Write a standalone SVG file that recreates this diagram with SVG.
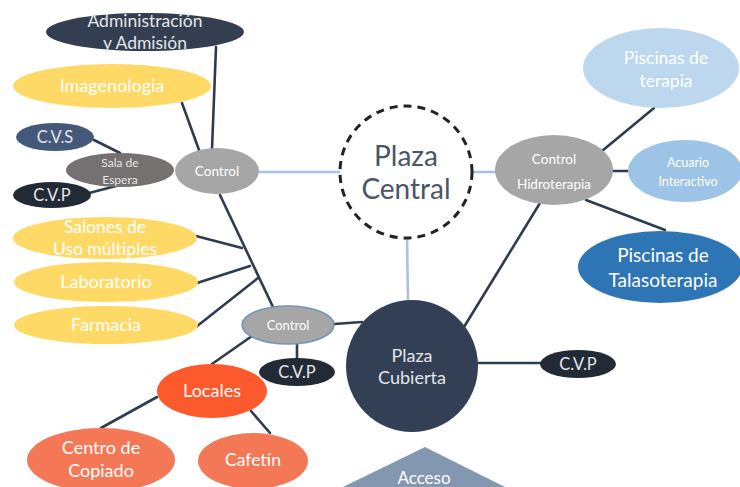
<svg xmlns="http://www.w3.org/2000/svg" width="740" height="487" viewBox="0 0 740 487">
<defs>
<style>
text{font-family:Lato,"Open Sans","Liberation Sans",sans-serif;text-anchor:middle}
.w{fill:#ffffff}
.lg{fill:#e4e6ea}
.dk{stroke:#2f3b4e;stroke-width:2.6;fill:none;stroke-linecap:round}
.lb{stroke:#a9c3dc;stroke-width:2.6;fill:none}
.yel{fill:#ffd966}
.gry{fill:#a6a6a6}
.navy{fill:#333f50}
.cvp{fill:#222a35}
.org{fill:#f47856}
</style>
</defs>
<rect width="740" height="487" fill="#ffffff"/>
<g id="connectors">
<line class="dk" x1="216" y1="47" x2="212" y2="149"/>
<line class="dk" x1="182" y1="103" x2="199" y2="150"/>
<line class="dk" x1="94" y1="140" x2="120" y2="153"/>
<line class="dk" x1="89" y1="193" x2="120" y2="185"/>
<line class="lb" x1="259" y1="172" x2="340" y2="172"/>
<line class="lb" x1="471" y1="172" x2="496" y2="172"/>
<line class="lb" x1="407" y1="238" x2="408" y2="301"/>
<line class="dk" x1="220" y1="195" x2="273" y2="307"/>
<line class="dk" x1="196" y1="236" x2="242" y2="248"/>
<line class="dk" x1="197" y1="283" x2="250" y2="266"/>
<line class="dk" x1="196" y1="327" x2="258" y2="278"/>
<line class="dk" x1="334" y1="324" x2="362" y2="322"/>
<line class="dk" x1="297" y1="343" x2="297" y2="360"/>
<line class="dk" x1="252" y1="336" x2="212" y2="364"/>
<line class="dk" x1="157" y1="397" x2="101" y2="428"/>
<line class="dk" x1="251" y1="411" x2="270" y2="433"/>
<line class="dk" x1="477" y1="363" x2="541" y2="363"/>
<line class="dk" x1="602" y1="151" x2="654" y2="108"/>
<line class="dk" x1="612" y1="171" x2="628" y2="171"/>
<line class="dk" x1="586" y1="200" x2="665" y2="230"/>
<line class="dk" x1="540" y1="203" x2="464" y2="327"/>
</g>
<g id="admin">
<ellipse class="navy" cx="145" cy="32" rx="99" ry="19"/>
<text class="lg" x="145" y="27" font-size="17.5">Administración</text>
<text class="lg" x="145" y="49" font-size="17.5">y Admisión</text>
</g>
<g id="imagenologia">
<ellipse class="yel" cx="112" cy="86" rx="99" ry="22"/>
<text class="w" x="112" y="92" font-size="18">Imagenologia</text>
</g>
<g id="cvs">
<ellipse cx="55" cy="137" rx="39" ry="14" fill="#44597a"/>
<text class="lg" x="55" y="143" font-size="16.5">C.V.S</text>
</g>
<g id="sala-espera">
<ellipse cx="120" cy="170" rx="54" ry="17" fill="#767171"/>
<text class="lg" x="120" y="167" font-size="12">Sala de</text>
<text class="lg" x="120" y="184" font-size="12">Espera</text>
</g>
<g id="cvp-left">
<ellipse class="cvp" cx="52" cy="195" rx="39" ry="13" fill="#222a35"/>
<text class="lg" x="52" y="201" font-size="16.5">C.V.P</text>
</g>
<g id="control-top">
<ellipse class="gry" cx="217" cy="171" rx="42" ry="23"/>
<text class="w" x="217" y="176" font-size="13.5">Control</text>
</g>
<g id="plaza-central">
<circle cx="406" cy="172" r="66" fill="#ffffff" stroke="#222222" stroke-width="3" stroke-dasharray="8,6"/>
<text x="406" y="166" font-size="28" fill="#4a5568">Plaza</text>
<text x="406" y="199" font-size="28" fill="#4a5568">Central</text>
</g>
<g id="control-hidroterapia">
<ellipse class="gry" cx="554" cy="170" rx="59" ry="35"/>
<text class="w" x="554" y="164" font-size="13.5">Control</text>
<text class="w" x="554" y="189" font-size="13.5">Hidroterapia</text>
</g>
<g id="piscinas-terapia">
<ellipse cx="661" cy="68" rx="78" ry="40" fill="#bdd7ee"/>
<text class="w" x="666" y="64" font-size="17.5">Piscinas de</text>
<text class="w" x="666" y="87" font-size="17.5">terapia</text>
</g>
<g id="acuario">
<ellipse cx="685" cy="171" rx="57" ry="31" fill="#9dc3e6"/>
<text class="w" x="688" y="167" font-size="12.5">Acuario</text>
<text class="w" x="688" y="186" font-size="12.5">Interactivo</text>
</g>
<g id="talasoterapia">
<ellipse cx="660" cy="267" rx="82" ry="36" fill="#2e75b6"/>
<text class="w" x="663" y="262" font-size="19">Piscinas de</text>
<text class="w" x="663" y="287" font-size="19">Talasoterapia</text>
</g>
<g id="salones">
<ellipse class="yel" cx="105" cy="238" rx="92" ry="21"/>
<text class="w" x="105" y="233" font-size="17.5">Salones de</text>
<text class="w" x="105" y="255" font-size="17.5">Uso múltiples</text>
</g>
<g id="laboratorio">
<ellipse class="yel" cx="106" cy="282" rx="92" ry="20"/>
<text class="w" x="106" y="288" font-size="18">Laboratorio</text>
</g>
<g id="farmacia">
<ellipse class="yel" cx="106" cy="325" rx="92" ry="19"/>
<text class="w" x="106" y="331" font-size="18">Farmacia</text>
</g>
<g id="control-bottom">
<ellipse class="gry" cx="288" cy="325" rx="46" ry="19" stroke="#6f95bd" stroke-width="1.5"/>
<text class="w" x="288" y="330" font-size="13">Control</text>
</g>
<g id="cvp-bottom">
<ellipse class="cvp" cx="297" cy="372" rx="38" ry="14"/>
<text class="lg" x="297" y="378" font-size="16.5">C.V.P</text>
</g>
<g id="locales">
<ellipse cx="212" cy="391" rx="55" ry="27" fill="#fc5a2c"/>
<text class="w" x="212" y="397" font-size="18">Locales</text>
</g>
<g id="centro-copiado">
<ellipse class="org" cx="101" cy="460" rx="74" ry="32"/>
<text class="w" x="101" y="454" font-size="18">Centro de</text>
<text class="w" x="101" y="477" font-size="18">Copiado</text>
</g>
<g id="cafetin">
<ellipse class="org" cx="253" cy="461" rx="55" ry="28"/>
<text class="w" x="253" y="466" font-size="17.5">Cafetín</text>
</g>
<g id="plaza-cubierta">
<circle cx="412" cy="366" r="66" fill="#323f54"/>
<text class="lg" x="412" y="362" font-size="18">Plaza</text>
<text class="lg" x="412" y="384" font-size="18">Cubierta</text>
</g>
<g id="cvp-right">
<ellipse class="cvp" cx="578" cy="364" rx="38" ry="14"/>
<text class="lg" x="578" y="370" font-size="16.5">C.V.P</text>
</g>
<g id="acceso">
<polygon points="425,447 505,487 343,487" fill="#8497b0"/>
<text class="w" x="424" y="484" font-size="17">Acceso</text>
</g>
</svg>
